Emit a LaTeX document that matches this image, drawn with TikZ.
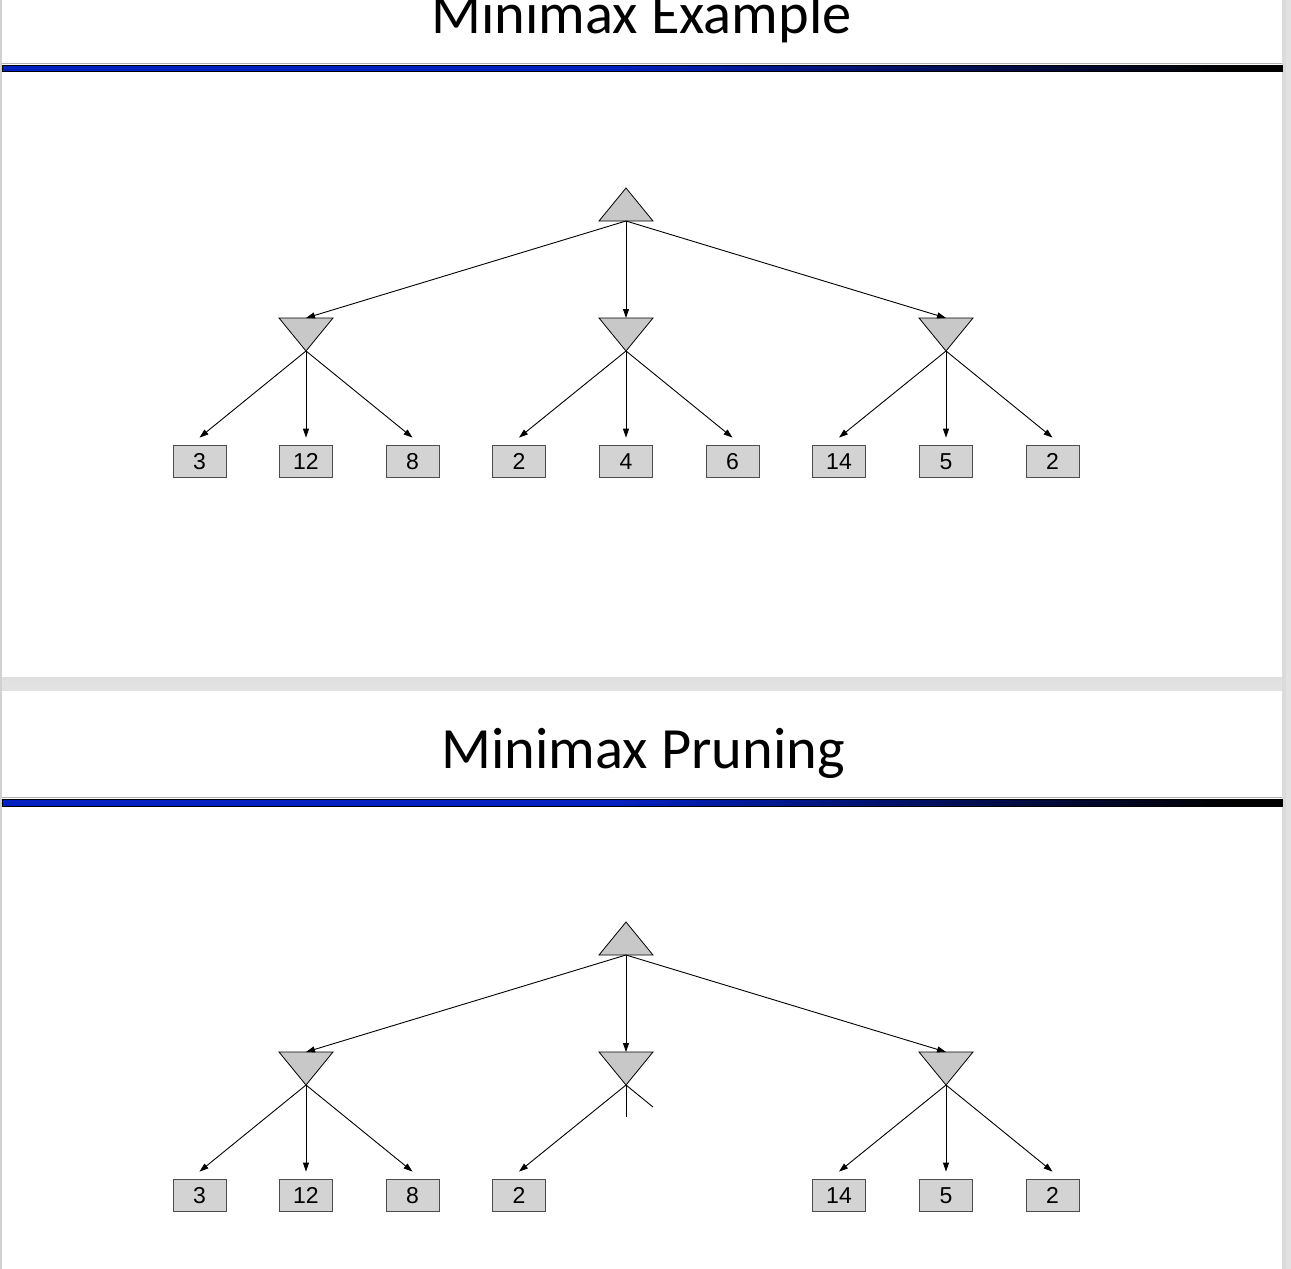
\documentclass[tikz,border=0pt]{standalone}
\usepackage{fontspec}
\setmainfont{Liberation Sans}
\newfontfamily\titlefont{Carlito}
\usetikzlibrary{arrows.meta}
\definecolor{slideblue}{RGB}{0,32,192}
\definecolor{tripale}{RGB}{200,200,200}
\definecolor{leafgray}{RGB}{211,211,211}
\definecolor{gapgray}{RGB}{226,226,226}

\begin{document}
\begin{tikzpicture}[x=1pt,y=-1pt,
    leaf/.style={draw=black!70,fill=leafgray,line width=0.8pt,minimum width=53pt,minimum height=32pt,inner sep=0pt,text height=16.5pt,text depth=0pt,font=\fontsize{23}{24}\selectfont},
    edge/.style={-{Triangle[length=9pt,width=6pt]},line width=0.9pt},
    tri/.style={draw,fill=tripale,line width=0.8pt,line join=miter},
    title/.style={anchor=base,inner sep=0pt,font=\titlefont\fontsize{58.4}{60}\selectfont}]
  \useasboundingbox (0,0) rectangle (1291,1269);
  % slides on the grey page
  \fill[gapgray] (0,0) rectangle (1291,1269);
  \fill[black!18] (0,0) rectangle (2,1269);
  \fill[black!14] (1282,0) rectangle (1286,1269);
  \fill[black!12] (2,677) rectangle (1282,681);
  \fill[white] (2,0) rectangle (1282,677);
  \fill[white] (2,691) rectangle (1282,1269);

  % titles and bars
  \node[title] (titleA) at (641.5,33) {Minimax Example};
  \node[title] (titleB) at (643,768) {Minimax Pruning};
  \fill[slideblue] (2,65) rectangle (620,71);
  \shade[left color=slideblue,right color=black] (619,65) rectangle (1230,71);
  \fill[black] (1229,65) rectangle (1282,71);
  \draw[line width=0.6pt] (2,65) rectangle (1282,71);
  \draw[black!30,line width=0.6pt] (2,63.5) -- (1282,63.5);
  \fill[slideblue] (2,799) rectangle (620,806);
  \shade[left color=slideblue,right color=black] (619,799) rectangle (1230,806);
  \fill[black] (1229,799) rectangle (1282,806);
  \draw[line width=0.6pt] (2,799) rectangle (1282,806);
  \draw[black!30,line width=0.6pt] (2,797.5) -- (1282,797.5);

  % minimax example
  \draw[tri] (599,221) -- (626,188) -- (653,221) -- cycle;
  \coordinate (maxA) at (626,221);
  \draw[tri] (279,318) -- (333,318) -- (306,351) -- cycle;
  \draw[tri] (599,318) -- (653,318) -- (626,351) -- cycle;
  \draw[tri] (919,318) -- (973,318) -- (946,351) -- cycle;
  \coordinate (minA1in) at (306,318);
  \coordinate (minA2in) at (626,318);
  \coordinate (minA3in) at (946,318);
  \coordinate (minA1) at (306,351);
  \coordinate (minA2) at (626,351);
  \coordinate (minA3) at (946,351);
  \node[leaf] (la1) at (199.5,461) {3};
  \node[leaf] (la2) at (306,461) {12};
  \node[leaf] (la3) at (412.5,461) {8};
  \node[leaf] (la4) at (519,461) {2};
  \node[leaf] (la5) at (626,461) {4};
  \node[leaf] (la6) at (732.5,461) {6};
  \node[leaf] (la7) at (839,461) {14};
  \node[leaf] (la8) at (946,461) {5};
  \node[leaf] (la9) at (1052.5,461) {2};
  \draw[edge] (maxA) -- (minA1in);
  \draw[edge] (maxA) -- (minA2in);
  \draw[edge] (maxA) -- (minA3in);
  \draw[edge] (minA1) -- ([yshift=7pt]la1.north);
  \draw[edge] (minA1) -- ([yshift=7pt]la2.north);
  \draw[edge] (minA1) -- ([yshift=7pt]la3.north);
  \draw[edge] (minA2) -- ([yshift=7pt]la4.north);
  \draw[edge] (minA2) -- ([yshift=7pt]la5.north);
  \draw[edge] (minA2) -- ([yshift=7pt]la6.north);
  \draw[edge] (minA3) -- ([yshift=7pt]la7.north);
  \draw[edge] (minA3) -- ([yshift=7pt]la8.north);
  \draw[edge] (minA3) -- ([yshift=7pt]la9.north);

  % minimax pruning
  \draw[tri] (599,955) -- (626,922) -- (653,955) -- cycle;
  \coordinate (maxB) at (626,955);
  \draw[tri] (279,1052) -- (333,1052) -- (306,1085) -- cycle;
  \draw[tri] (599,1052) -- (653,1052) -- (626,1085) -- cycle;
  \draw[tri] (919,1052) -- (973,1052) -- (946,1085) -- cycle;
  \coordinate (minB1in) at (306,1052);
  \coordinate (minB2in) at (626,1052);
  \coordinate (minB3in) at (946,1052);
  \coordinate (minB1) at (306,1085);
  \coordinate (minB2) at (626,1085);
  \coordinate (minB3) at (946,1085);
  \coordinate (cutB1) at (626,1117);
  \coordinate (cutB2) at (653,1107);
  \node[leaf] (lb1) at (199.5,1195) {3};
  \node[leaf] (lb2) at (306,1195) {12};
  \node[leaf] (lb3) at (412.5,1195) {8};
  \node[leaf] (lb4) at (519,1195) {2};
  \node[leaf] (lb7) at (839,1195) {14};
  \node[leaf] (lb8) at (946,1195) {5};
  \node[leaf] (lb9) at (1052.5,1195) {2};
  \draw[edge] (maxB) -- (minB1in);
  \draw[edge] (maxB) -- (minB2in);
  \draw[edge] (maxB) -- (minB3in);
  \draw[edge] (minB1) -- ([yshift=7pt]lb1.north);
  \draw[edge] (minB1) -- ([yshift=7pt]lb2.north);
  \draw[edge] (minB1) -- ([yshift=7pt]lb3.north);
  \draw[edge] (minB2) -- ([yshift=7pt]lb4.north);
  \draw[line width=0.9pt] (minB2) -- (cutB1);
  \draw[line width=0.9pt] (minB2) -- (cutB2);
  \draw[edge] (minB3) -- ([yshift=7pt]lb7.north);
  \draw[edge] (minB3) -- ([yshift=7pt]lb8.north);
  \draw[edge] (minB3) -- ([yshift=7pt]lb9.north);
\end{tikzpicture}
\end{document}
